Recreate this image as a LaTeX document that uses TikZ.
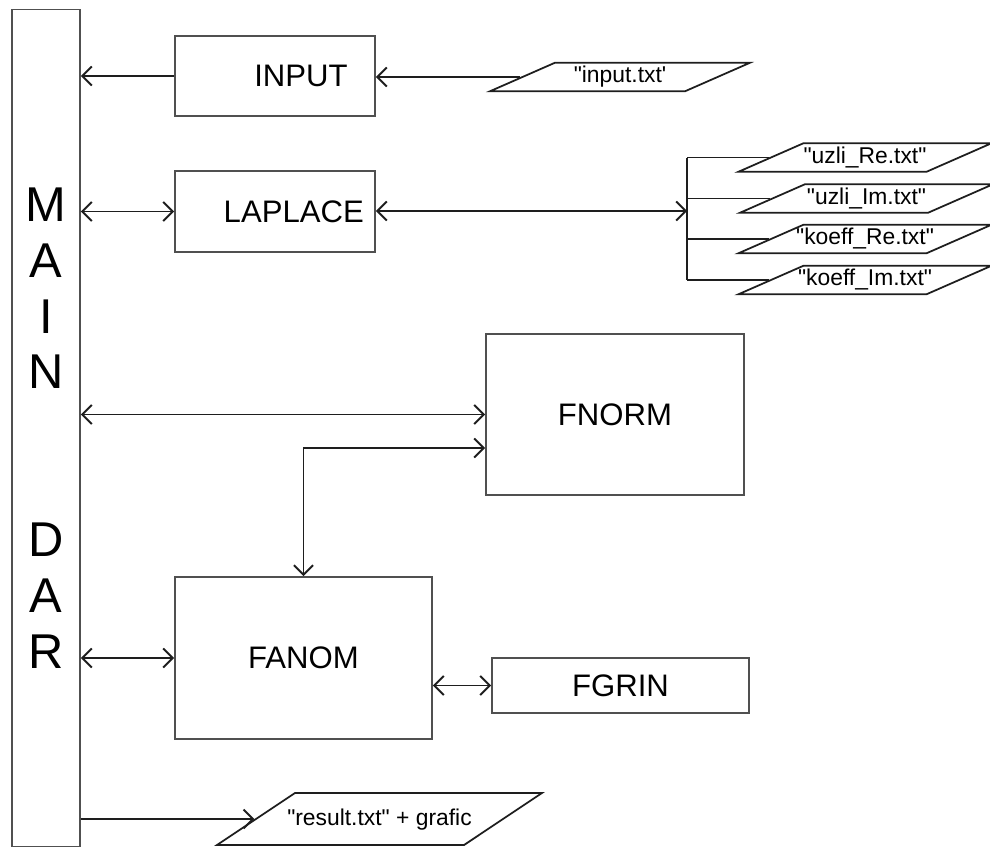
\documentclass[tikz,border=0pt]{standalone}
\usepackage{fontspec}
\setmainfont{Liberation Sans}
\usetikzlibrary{arrows.meta,positioning,calc,shapes.geometric}
\definecolor{boxink}{HTML}{505050}
\definecolor{arrink}{HTML}{1E1E1E}

\begin{document}
\begin{tikzpicture}[x=1cm,y=1cm,font=\fontsize{17.7}{21}\selectfont,
 blk/.style={draw=boxink,line width=1.1pt,fill=white,inner sep=0pt},
 offtext/.style={execute at begin node=\hspace*{#1}},
 datafile/.style={trapezium,draw=arrink,line width=1pt,inner ysep=0pt,inner xsep=-.25cm,
  trapezium stretches body=true,trapezium left angle=23.7,trapezium right angle=156.3,
  text height=.4cm,text depth=.17cm,
  minimum width=5.06cm,font=\fontsize{13}{15}\selectfont},
 ln/.style={draw=arrink,line width=1.1pt},
 ar/.style={ln,-{Straight Barb[length=1.9mm,width=3.8mm]}},
 arr/.style={ln,{Straight Barb[length=1.9mm,width=3.8mm]}-{Straight Barb[length=1.9mm,width=3.8mm]}}]
\useasboundingbox (0,0) rectangle (19.8,-16.94);
% main block
\node[blk,minimum width=1.36cm,minimum height=16.74cm,align=center,
 font=\fontsize{27.8}{31.8}\selectfont] (main) at (.92,-8.56)
 {M\\A\\I\\N\\[63.6pt]D\\A\\R};
\node[blk,offtext=1.04cm,minimum width=4cm,minimum height=1.6cm] (input) at (5.5,-1.52) {INPUT};
\node[blk,offtext=.75cm,minimum width=4cm,minimum height=1.62cm] (laplace) at (5.5,-4.23) {LAPLACE};
\node[blk,minimum width=5.16cm,minimum height=3.22cm] (fnorm) at (12.3,-8.29) {FNORM};
\node[blk,minimum width=5.14cm,minimum height=3.24cm] (fanom) at (6.07,-13.16) {FANOM};
\node[blk,minimum width=5.14cm,minimum height=1.1cm] (fgrin) at (12.41,-13.71) {FGRIN};
% files
\node[datafile,minimum width=5.2cm] (inputtxt) at (12.4,-1.54) {\textquotedbl input.txt\textquotesingle};
\node[datafile] (uzlire) at (17.3,-3.15) {\textquotedbl uzli\_Re.txt\textquotedbl};
\node[datafile] (uzliim) at (17.33,-3.97) {\textquotedbl uzli\_Im.txt\textquotedbl};
\node[datafile] (koeffre) at (17.3,-4.78) {\textquotedbl koeff\_Re.txt\textquotedbl};
\node[datafile] (koeffim) at (17.3,-5.6) {\textquotedbl koeff\_Im.txt\textquotedbl};
\node[datafile,trapezium left angle=33.7,trapezium right angle=146.3,inner xsep=-.3cm,
 text height=.64cm,text depth=.4cm,minimum width=6.5cm] (result) at (7.59,-16.38)
 {\textquotedbl result.txt\textquotedbl{} + grafic};
\coordinate (bus) at (13.74,-4.22);
% connectors
\draw[ar] (input.west) -- (input.west -| main.east);
\draw[ar] (inputtxt.left side) -- (inputtxt.left side -| input.east);
\draw[arr] (laplace.west) -- (laplace.west -| main.east);
\draw[arr] (laplace.east |- bus) -- (bus);
\draw[ln] (bus |- uzlire.left side) -- (bus |- koeffim.left side);
\foreach \f in {uzlire,uzliim,koeffre,koeffim}
 {\draw[ln] (bus |- \f.left side) -- (\f.left side);}
\draw[arr] (fnorm.west) -- (fnorm.west -| main.east);
\draw[arr] (fanom.north) |- ([yshift=-.67cm]fnorm.west);
\draw[arr] (fanom.west) -- (fanom.west -| main.east);
\draw[arr] (fgrin.west) -- (fgrin.west -| fanom.east);
\draw[ar] (main.east |- result.left side) -- (result.left side);
\end{tikzpicture}
\end{document}
